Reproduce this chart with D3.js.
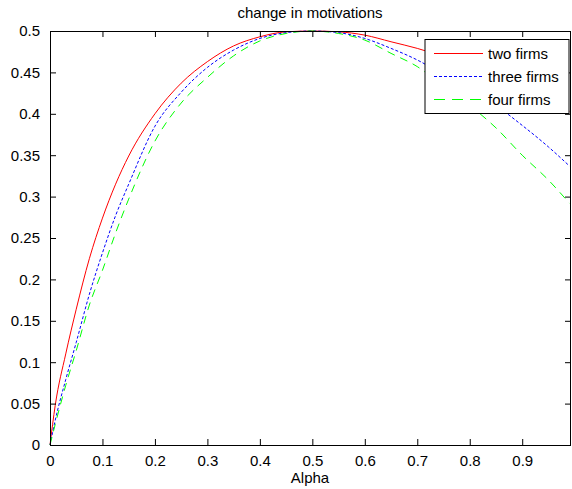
<!DOCTYPE html>
<html>
<head>
<meta charset="utf-8">
<script src="https://cdn.jsdelivr.net/npm/d3@7"></script>
<style>
  body { margin: 0; background: #fff; }
  svg text { font-family: "Liberation Sans", Arial, sans-serif; }
</style>
</head>
<body>
<div id="chart"></div>
<script>
// alpha values and read-off curves
const alpha = [0, 0.01, 0.03, 0.05, 0.075, 0.1, 0.125, 0.15, 0.2, 0.25, 0.3, 0.35, 0.4, 0.45,
  0.5, 0.55, 0.6, 0.65, 0.7, 0.75, 0.8, 0.85, 0.9, 0.95, 0.99];
const twoFirms = [0, 0.048, 0.11, 0.164, 0.225, 0.274, 0.315, 0.349, 0.40, 0.437, 0.463, 0.482, 0.493, 0.499,
  0.5, 0.499, 0.495, 0.487, 0.479, 0.469, 0.458, 0.445, 0.432, 0.418, 0.403];
const threeFirms = [0, 0.03, 0.079, 0.124, 0.182, 0.232, 0.277, 0.315, 0.385, 0.426, 0.456, 0.477, 0.491, 0.498,
  0.5, 0.498, 0.491, 0.479, 0.465, 0.447, 0.429, 0.41, 0.386, 0.36, 0.337];
const fourFirms = [0, 0.025, 0.072, 0.114, 0.169, 0.211, 0.256, 0.297, 0.367, 0.413, 0.444, 0.470, 0.488, 0.497,
  0.5, 0.497, 0.489, 0.473, 0.457, 0.433, 0.41, 0.383, 0.35, 0.32, 0.292];
const seriesNames = ['two firms', 'three firms', 'four firms'];
const xTicks = [0, 0.1, 0.2, 0.3, 0.4, 0.5, 0.6, 0.7, 0.8, 0.9];
const yTicks = [0, 0.05, 0.1, 0.15, 0.2, 0.25, 0.3, 0.35, 0.4, 0.45, 0.5];

const width = 572;
const height = 489;
const margin = { top: 31, right: 1, bottom: 44, left: 50 };

const svg = d3.select('#chart')
  .append('svg')
  .attr('width', width)
  .attr('height', height);

const x = d3.scaleLinear()
  .domain([0, 0.993])
  .range([margin.left, width - margin.right]);

const y = d3.scaleLinear()
  .domain([0, 0.5])
  .range([height - margin.bottom, margin.top]);

const styles = [
  { color: '#ff0000', dash: null, legendDash: null },
  { color: '#0000ff', dash: '3,2', legendDash: '3,2' },
  { color: '#00ff00', dash: '8,6', legendDash: '11,7' }
];
const series = [twoFirms, threeFirms, fourFirms];

const line = d3.line()
  .x((d, i) => x(alpha[i]))
  .y((d) => y(d))
  .curve(d3.curveMonotoneX);

svg.append('g')
  .selectAll('path')
  .data(series)
  .join('path')
  .attr('fill', 'none')
  .attr('stroke', (d, i) => styles[i].color)
  .attr('stroke-width', 1)
  .attr('stroke-dasharray', (d, i) => styles[i].dash)
  .attr('d', line);

// axes, MATLAB style box with inward ticks
function fmt(v) { return d3.format('~g')(+v.toFixed(2)); }

svg.append('g')
  .attr('transform', `translate(0,${y(0)})`)
  .call(d3.axisBottom(x).tickValues(xTicks).tickSizeInner(-6).tickSizeOuter(0).tickPadding(10).tickFormat(fmt))
  .call((g) => g.select('.domain').remove());

svg.append('g')
  .attr('transform', `translate(0,${y(0.5)})`)
  .call(d3.axisTop(x).tickValues(xTicks).tickSizeInner(-6).tickSizeOuter(0).tickFormat(''))
  .call((g) => g.select('.domain').remove());

svg.append('g')
  .attr('transform', `translate(${x(0)},0)`)
  .call(d3.axisLeft(y).tickValues(yTicks).tickSizeInner(-6).tickSizeOuter(0).tickPadding(10).tickFormat(fmt))
  .call((g) => g.select('.domain').remove());

svg.append('g')
  .attr('transform', `translate(${width - margin.right},0)`)
  .call(d3.axisRight(y).tickValues(yTicks).tickSizeInner(-6).tickSizeOuter(0).tickFormat(''))
  .call((g) => g.select('.domain').remove());

svg.selectAll('.tick text')
  .attr('font-size', 15)
  .attr('font-family', '"Liberation Sans", Arial, sans-serif')
  .attr('fill', '#000');
svg.selectAll('.tick line').attr('stroke', '#000');

svg.append('rect')
  .attr('x', x(0) + 0.5)
  .attr('y', y(0.5) + 0.5)
  .attr('width', x(0.993) - x(0) - 1)
  .attr('height', y(0) - y(0.5))
  .attr('fill', 'none')
  .attr('stroke', '#000')
  .attr('stroke-width', 1);

svg.append('text')
  .attr('x', 310)
  .attr('y', 18)
  .attr('text-anchor', 'middle')
  .attr('font-size', 15)
  .text('change in motivations');

svg.append('text')
  .attr('x', 310)
  .attr('y', 483)
  .attr('text-anchor', 'middle')
  .attr('font-size', 15)
  .text('Alpha');

// legend
const legendItems = seriesNames.map((name, i) => ({ name: name, style: styles[i], row: i }));
const legend = svg.append('g').attr('transform', 'translate(425,39.5)');
legend.append('rect')
  .attr('width', 144)
  .attr('height', 74)
  .attr('fill', '#fff')
  .attr('stroke', '#000');
const rows = legend.selectAll('g.row')
  .data(legendItems)
  .join('g')
  .attr('class', 'row')
  .attr('transform', (d) => `translate(0,${14 + d.row * 23})`);
rows.append('line')
  .attr('x1', 9)
  .attr('x2', 58)
  .attr('y1', 0)
  .attr('y2', 0)
  .style('stroke', (d) => d.style.color)
  .style('stroke-width', 1)
  .style('stroke-dasharray', (d) => d.style.legendDash);
rows.append('text')
  .attr('x', 63)
  .attr('dy', '0.35em')
  .attr('font-size', 15)
  .text((d) => d.name);
</script>
</body>
</html>
